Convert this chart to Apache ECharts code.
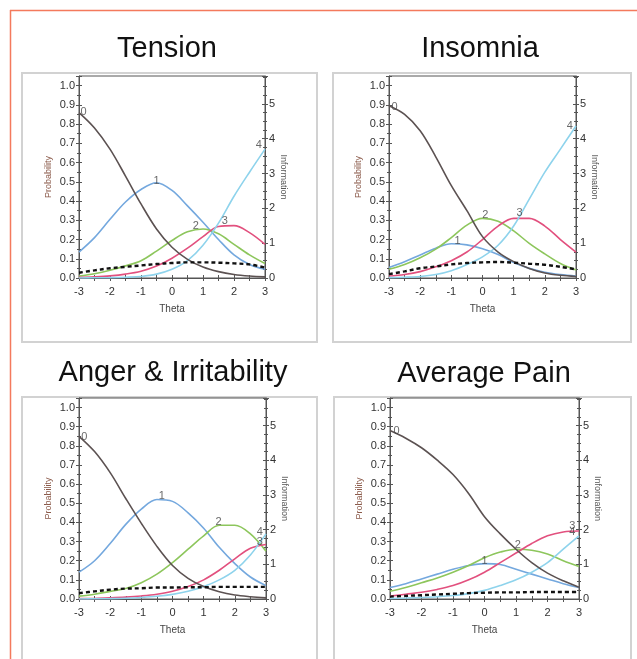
<!DOCTYPE html>
<html>
<head>
<meta charset="utf-8">
<script src="https://cdn.jsdelivr.net/npm/echarts@6/dist/echarts.min.js"></script>
<style>html,body{margin:0;padding:0;background:#fff}#c{width:637px;height:659px}</style>
</head>
<body>
<div id="c"></div>
<script>
// ---- data (theta grid, category response probabilities, information) ----
var thetas = [-3, -2.5, -2, -1.5, -1, -0.5, 0, 0.5, 1, 1.5, 2, 2.5, 3];
var panelTitles = ['Tension', 'Insomnia', 'Anger & Irritability', 'Average Pain'];
var probTicks = ['0.0','0.1','0.2','0.3','0.4','0.5','0.6','0.7','0.8','0.9','1.0'];

var tension0 = [0.86, 0.78, 0.67, 0.53, 0.385, 0.255, 0.16, 0.097, 0.057, 0.033, 0.018, 0.01, 0.006];
var tension1 = [0.135, 0.21, 0.305, 0.395, 0.46, 0.495, 0.455, 0.375, 0.29, 0.2, 0.12, 0.07, 0.045];
var tension2 = [0.01, 0.022, 0.04, 0.063, 0.09, 0.14, 0.195, 0.24, 0.255, 0.23, 0.175, 0.12, 0.075];
var tension3 = [0.003, 0.006, 0.011, 0.02, 0.035, 0.062, 0.103, 0.155, 0.215, 0.268, 0.272, 0.236, 0.175];
var tension4 = [0.0, 0.001, 0.002, 0.004, 0.008, 0.02, 0.045, 0.09, 0.17, 0.285, 0.425, 0.55, 0.67];
var tensionInfo = [0.15, 0.22, 0.28, 0.32, 0.36, 0.40, 0.43, 0.45, 0.45, 0.44, 0.42, 0.39, 0.30];

var insomnia0 = [0.895, 0.85, 0.765, 0.63, 0.48, 0.35, 0.215, 0.135, 0.085, 0.05, 0.026, 0.014, 0.008];
var insomnia1 = [0.055, 0.085, 0.12, 0.155, 0.178, 0.172, 0.152, 0.122, 0.08, 0.05, 0.03, 0.018, 0.01];
var insomnia2 = [0.045, 0.07, 0.105, 0.15, 0.21, 0.275, 0.31, 0.295, 0.245, 0.18, 0.125, 0.075, 0.042];
var insomnia3 = [0.01, 0.018, 0.033, 0.058, 0.09, 0.135, 0.2, 0.27, 0.31, 0.31, 0.27, 0.2, 0.135];
var insomnia4 = [0.002, 0.004, 0.008, 0.018, 0.038, 0.07, 0.11, 0.17, 0.27, 0.41, 0.55, 0.67, 0.79];
var insomniaInfo = [0.11, 0.19, 0.28, 0.33, 0.39, 0.43, 0.45, 0.46, 0.44, 0.41, 0.38, 0.32, 0.25];

var anger0 = [0.85, 0.77, 0.66, 0.525, 0.395, 0.275, 0.175, 0.108, 0.065, 0.038, 0.021, 0.012, 0.006];
var anger1 = [0.14, 0.2, 0.29, 0.39, 0.47, 0.52, 0.51, 0.45, 0.37, 0.27, 0.185, 0.115, 0.07];
var anger2 = [0.015, 0.025, 0.04, 0.055, 0.085, 0.13, 0.19, 0.26, 0.33, 0.385, 0.385, 0.34, 0.25];
var anger3 = [0.002, 0.003, 0.006, 0.01, 0.016, 0.025, 0.04, 0.065, 0.1, 0.15, 0.21, 0.265, 0.285];
var anger4 = [0.0, 0.001, 0.002, 0.004, 0.008, 0.014, 0.024, 0.04, 0.065, 0.1, 0.15, 0.23, 0.34];
var angerInfo = [0.17, 0.22, 0.27, 0.30, 0.31, 0.33, 0.33, 0.34, 0.34, 0.35, 0.35, 0.35, 0.35];

var pain0 = [0.88, 0.84, 0.79, 0.725, 0.65, 0.55, 0.43, 0.34, 0.26, 0.19, 0.135, 0.095, 0.062];
var pain1 = [0.06, 0.08, 0.105, 0.13, 0.155, 0.175, 0.185, 0.18, 0.155, 0.13, 0.105, 0.08, 0.06];
var pain2 = [0.04, 0.06, 0.085, 0.11, 0.14, 0.175, 0.215, 0.245, 0.26, 0.255, 0.235, 0.2, 0.17];
var pain3 = [0.015, 0.025, 0.035, 0.05, 0.07, 0.1, 0.14, 0.19, 0.24, 0.29, 0.33, 0.35, 0.355];
var pain4 = [0.003, 0.005, 0.008, 0.012, 0.018, 0.028, 0.045, 0.07, 0.1, 0.14, 0.19, 0.26, 0.33];
var painInfo = [0.07, 0.09, 0.11, 0.13, 0.15, 0.17, 0.18, 0.19, 0.19, 0.2, 0.2, 0.2, 0.2];

// curve number labels: [theta, probability, text]
var tensionLabels = [[-2.85, 0.865, '0'], [-0.5, 0.505, '1'], [0.77, 0.27, '2'], [1.7, 0.295, '3'], [2.8, 0.69, '4']];
var insomniaLabels = [[-2.82, 0.89, '0'], [-0.8, 0.195, '1'], [0.09, 0.33, '2'], [1.19, 0.34, '3'], [2.8, 0.79, '4']];
var angerLabels = [[-2.83, 0.845, '0'], [-0.34, 0.54, '1'], [1.48, 0.40, '2'], [2.8, 0.30, '3'], [2.8, 0.35, '4']];
var painLabels = [[-2.79, 0.878, '0'], [0.0, 0.2, '1'], [1.06, 0.283, '2'], [2.79, 0.382, '3'], [2.79, 0.352, '4']];

var panelCurves = [
  [tension0, tension1, tension2, tension3, tension4],
  [insomnia0, insomnia1, insomnia2, insomnia3, insomnia4],
  [anger0, anger1, anger2, anger3, anger4],
  [pain0, pain1, pain2, pain3, pain4]
];
var panelInfo = [tensionInfo, insomniaInfo, angerInfo, painInfo];
var panelLabels = [tensionLabels, insomniaLabels, angerLabels, painLabels];

// ---- layout / style ----
var FONT = '"Liberation Sans", Arial, sans-serif';
var curveColors = ['#5c5252', '#74a8de', '#8dc65c', '#e2507e', '#8ed3ec'];
var grids = [
  {left: 79, top: 76, width: 186, height: 202},
  {left: 389, top: 76, width: 187, height: 202},
  {left: 79, top: 398, width: 187, height: 201},
  {left: 390, top: 398, width: 189, height: 201}
];
var titlePos = [[167, 34], [480, 34], [173, 358], [484, 359]];
var frames = [[22, 73, 295, 269], [333, 73, 298, 269], [22, 397, 295, 280], [334, 397, 297, 280]];

var axisColor = '#555';
var labelColor = '#333';
var option = {
  animation: false,
  backgroundColor: '#fff',
  textStyle: {fontFamily: FONT},
  grid: [], xAxis: [], yAxis: [], series: [], graphic: []
};

// frames, border, titles
option.graphic.push({type: 'line', shape: {x1: 10, y1: 10.5, x2: 637, y2: 10.5}, style: {stroke: '#f47a5c', lineWidth: 1.5}, silent: true});
option.graphic.push({type: 'line', shape: {x1: 10.5, y1: 10, x2: 10.5, y2: 659}, style: {stroke: '#f47a5c', lineWidth: 1.5}, silent: true});
frames.forEach(function (f) {
  option.graphic.push({type: 'rect', shape: {x: f[0], y: f[1], width: f[2], height: f[3]}, style: {fill: 'none', stroke: '#d2d2d2', lineWidth: 2}, silent: true, z: -1});
});
panelTitles.forEach(function (t, i) {
  option.graphic.push({type: 'text', x: titlePos[i][0], y: titlePos[i][1], style: {text: t, fill: '#111', font: '29px ' + FONT, textAlign: 'center', textVerticalAlign: 'top'}, silent: true});
});

function tickFmt(v) {
  var idx = Math.round(v * 10);
  return probTicks[idx] !== undefined ? probTicks[idx] : '';
}

for (var i = 0; i < 4; i++) {
  var g = grids[i];
  option.grid.push({left: g.left, top: g.top, width: g.width, height: g.height, show: true, borderColor: axisColor, borderWidth: 1, backgroundColor: 'transparent'});
  var xb = option.xAxis.length, yb = option.yAxis.length;
  // x main
  option.xAxis.push({gridIndex: i, type: 'value', min: -3, max: 3, interval: 1, position: 'bottom',
    axisLine: {show: true, onZero: false, lineStyle: {color: axisColor, width: 1}},
    axisTick: {show: true, inside: false, length: 3, lineStyle: {color: axisColor}},
    minorTick: {show: true, splitNumber: 2, length: 3, lineStyle: {color: axisColor}},
    splitLine: {show: false}, minorSplitLine: {show: false},
    axisLabel: {color: labelColor, fontSize: 11, margin: 8, fontFamily: FONT},
    name: 'Theta', nameLocation: 'middle', nameGap: 26, nameTextStyle: {color: '#444', fontSize: 10, fontFamily: FONT}
  });
  // x inside ticks
  option.xAxis.push({gridIndex: i, type: 'value', min: -3, max: 3, interval: 1, position: 'bottom',
    axisLine: {show: false, onZero: false},
    axisTick: {show: true, inside: true, length: 3, lineStyle: {color: axisColor}},
    minorTick: {show: true, splitNumber: 2, length: 3, lineStyle: {color: axisColor}},
    splitLine: {show: false}, axisLabel: {show: false}
  });
  // y left main
  option.yAxis.push({gridIndex: i, type: 'value', position: 'left', min: 0, max: 1.05, interval: 0.1,
    axisLine: {show: true, onZero: false, lineStyle: {color: axisColor, width: 1}},
    axisTick: {show: true, inside: false, length: 3, lineStyle: {color: axisColor}},
    minorTick: {show: true, splitNumber: 2, length: 2, lineStyle: {color: axisColor}},
    splitLine: {show: false}, minorSplitLine: {show: false},
    axisLabel: {color: labelColor, fontSize: 11, margin: 4, formatter: tickFmt, showMaxLabel: false, fontFamily: FONT},
    name: 'Probability', nameLocation: 'middle', nameGap: 26, nameTextStyle: {color: '#8b5a4a', fontSize: 9, fontFamily: FONT}
  });
  // y left inside
  option.yAxis.push({gridIndex: i, type: 'value', position: 'left', min: 0, max: 1.05, interval: 0.1,
    axisLine: {show: false, onZero: false},
    axisTick: {show: true, inside: true, length: 3, lineStyle: {color: axisColor}},
    minorTick: {show: true, splitNumber: 2, length: 2, lineStyle: {color: axisColor}},
    splitLine: {show: false}, axisLabel: {show: false}
  });
  // y right main (information)
  option.yAxis.push({gridIndex: i, type: 'value', position: 'right', min: 0, max: 5.8, interval: 1,
    axisLine: {show: true, onZero: false, lineStyle: {color: axisColor, width: 1}},
    axisTick: {show: true, inside: false, length: 3, lineStyle: {color: axisColor}},
    minorTick: {show: true, splitNumber: 4, length: 2, lineStyle: {color: axisColor}},
    splitLine: {show: false}, minorSplitLine: {show: false},
    axisLabel: {color: labelColor, fontSize: 11, margin: 4, showMaxLabel: false, fontFamily: FONT},
    name: 'Information', nameLocation: 'middle', nameRotate: -90, nameGap: 14, nameTextStyle: {color: '#555', fontSize: 9, fontFamily: FONT}
  });
  // y right inside
  option.yAxis.push({gridIndex: i, type: 'value', position: 'right', min: 0, max: 5.8, interval: 1,
    axisLine: {show: false, onZero: false},
    axisTick: {show: true, inside: true, length: 3, lineStyle: {color: axisColor}},
    minorTick: {show: true, splitNumber: 4, length: 2, lineStyle: {color: axisColor}},
    splitLine: {show: false}, axisLabel: {show: false}
  });

  var curves = panelCurves[i];
  curves.forEach(function (vals, k) {
    option.series.push({type: 'line', xAxisIndex: xb, yAxisIndex: yb, smooth: 0.35, symbol: 'none', silent: true,
      data: thetas.map(function (t, j) { return [t, vals[j]]; }),
      lineStyle: {color: curveColors[k], width: 1.6}, z: 3 + (k === 0 ? 1 : 0)
    });
  });
  var info = panelInfo[i];
  option.series.push({type: 'line', xAxisIndex: xb, yAxisIndex: yb + 2, smooth: 0.35, symbol: 'none', silent: true,
    data: thetas.map(function (t, j) { return [t, info[j]]; }),
    lineStyle: {color: '#111', width: 2.4, type: [4, 3]}, z: 5
  });
  option.series.push({type: 'scatter', xAxisIndex: xb, yAxisIndex: yb, silent: true,
    data: panelLabels[i], symbol: 'circle', symbolSize: 1,
    itemStyle: {color: 'rgba(0,0,0,0)'},
    label: {show: true, position: 'inside', formatter: function (p) { return p.data[2]; }, color: '#444', fontSize: 11, fontFamily: FONT},
    z: 6
  });
}

var chart = echarts.init(document.getElementById('c'), null, {renderer: 'canvas'});
chart.setOption(option);
</script>
</body>
</html>
